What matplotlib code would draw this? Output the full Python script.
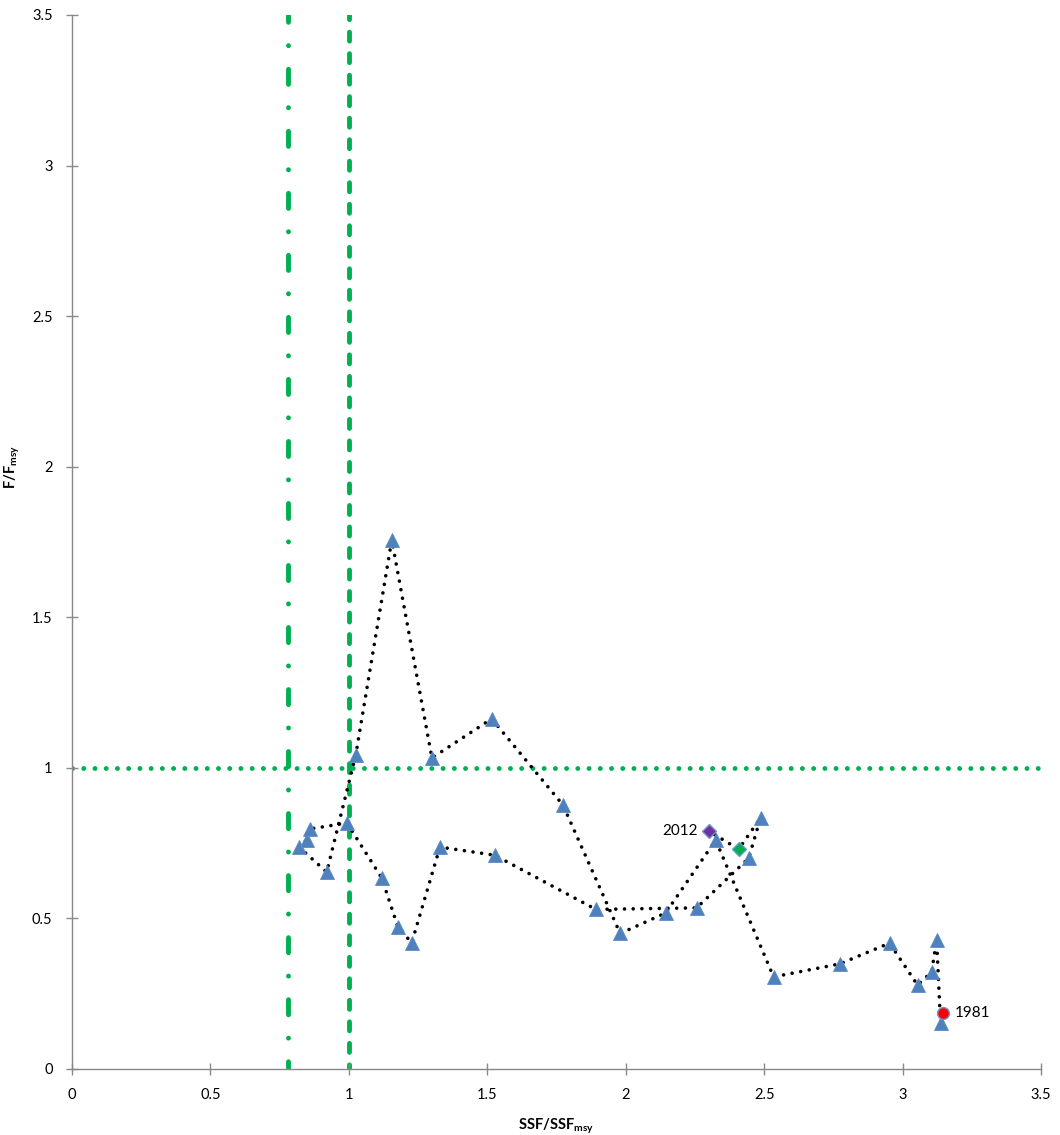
import matplotlib
matplotlib.use("Agg")
import matplotlib.pyplot as plt

plt.rcParams['font.family'] = ['Lato', 'DejaVu Sans']
plt.rcParams['mathtext.fontset'] = 'custom'
plt.rcParams['mathtext.rm'] = 'Lato'
plt.rcParams['mathtext.bf'] = 'Lato:bold'

# -----------------------------
# Data
# -----------------------------
# trajectory, in drawing order (last two points are the diamonds)
ssf_path = [3.137, 3.123, 3.105, 3.054, 2.953, 2.773, 2.534, 2.325, 2.144, 1.980,
            1.773, 1.516, 1.300, 1.155, 1.025, 0.920, 0.820, 0.848, 0.859, 0.993,
            1.119, 1.177, 1.227, 1.329, 1.527, 1.892, 2.256, 2.444, 2.487,
            2.408, 2.300]
f_path = [0.153, 0.428, 0.322, 0.279, 0.418, 0.349, 0.306, 0.760, 0.518, 0.450,
          0.877, 1.163, 1.033, 1.757, 1.043, 0.654, 0.737, 0.760, 0.797, 0.817,
          0.634, 0.472, 0.419, 0.737, 0.710, 0.530, 0.535, 0.700, 0.834,
          0.730, 0.790]

first_year = (3.145, 0.186)
first_label = "1981"
last_label = "2012"

limit_ssf = 0.78      # dash-dot reference
target_ssf = 1.0      # dashed reference
target_f = 1.0        # dotted reference

ticks = [0, 0.5, 1, 1.5, 2, 2.5, 3, 3.5]
tick_labels = ["0", "0.5", "1", "1.5", "2", "2.5", "3", "3.5"]

# -----------------------------
# Figure
# -----------------------------
fig = plt.figure(figsize=(10.6, 11.35), dpi=100)
ax = fig.add_axes([72 / 1060, 1 - 1069 / 1135, (1041 - 72) / 1060, (1069 - 15) / 1135])

green = "#00B050"
ax.axhline(target_f, color=green, lw=3.5, linestyle=(0, (0.01, 2.3)),
           dash_capstyle='round', zorder=1)
# dash periods chosen so the pattern fills the full axis height
ax.axvline(target_ssf, color=green, lw=3.5, linestyle=(0.9, (1.85, 2.576)),
           dash_capstyle='round', zorder=1)
ax.axvline(limit_ssf, color=green, lw=3.5, linestyle=(1.5, (3.1, 4.85, 0.01, 4.8)),
           dash_capstyle='round', zorder=1)

# dotted trajectory
ax.plot(ssf_path, f_path, color='black', lw=2.6, linestyle=(0, (0.01, 2.4)),
        dash_capstyle='round', zorder=2)

# yearly markers
ax.plot(ssf_path[:-2], f_path[:-2], linestyle='none', marker='^', ms=10,
        color='#4F81BD', mec='#5B8BC8', mew=0.6, zorder=3)

# highlighted points
ax.plot(*first_year, marker='o', ms=8.5, color='#FF0000', mec='#6E95C8', mew=1, zorder=4)
ax.plot(ssf_path[-2], f_path[-2], marker='D', ms=7, color=green, mec='#6E95C8', mew=1, zorder=4)
ax.plot(ssf_path[-1], f_path[-1], marker='D', ms=7, color='#7030A0', mec='#6E95C8', mew=1, zorder=4)

ax.annotate(first_label, first_year, xytext=(9, 0), textcoords='offset points',
            ha='left', va='center', fontsize=11)
ax.annotate(last_label, (ssf_path[-1], f_path[-1]), xytext=(-8, 0), textcoords='offset points',
            ha='right', va='center', fontsize=11)

# axes styling
ax.set_xlim(0, 3.5)
ax.set_ylim(0, 3.5)
ax.set_xticks(ticks)
ax.set_xticklabels(tick_labels)
ax.set_yticks(ticks)
ax.set_yticklabels(tick_labels)
ax.tick_params(direction='inout', length=8, width=1, color='#888888',
               labelsize=10.5, pad=10)
for side in ['top', 'right']:
    ax.spines[side].set_visible(False)
for side in ['left', 'bottom']:
    ax.spines[side].set_color('#888888')
    ax.spines[side].set_linewidth(1)

ax.set_xlabel(r'SSF/SSF$_{\mathbf{msy}}$', fontsize=10.5, fontweight='bold', labelpad=10)
ax.set_ylabel(r'F/F$_{\mathbf{msy}}$', fontsize=10.5, fontweight='bold')
ax.yaxis.set_label_coords(-0.052, 2.0 / 3.5)

fig.savefig("out.png", dpi=100)
